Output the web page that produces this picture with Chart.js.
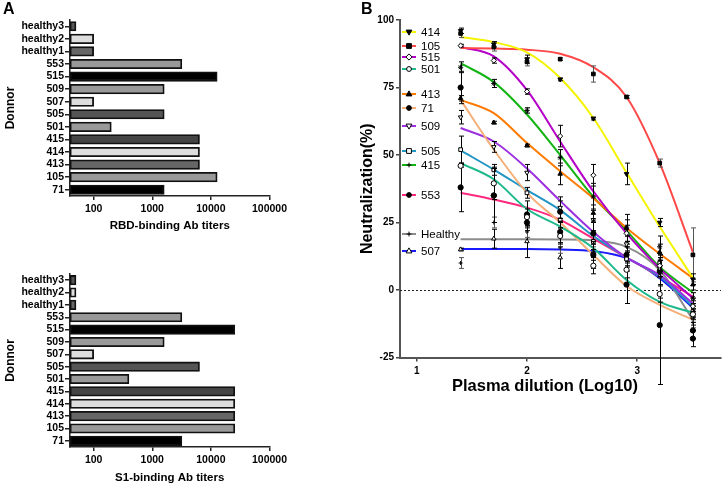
<!DOCTYPE html>
<html lang="en">
<head>
<meta charset="UTF-8">
<title>Donor titers and neutralization</title>
<script src="https://cdn.jsdelivr.net/npm/chart.js"></script>
<style>
  body { margin: 0; background: #fff; }
  #wrap { position: relative; width: 726px; height: 486px; font-family: 'Liberation Sans', Arial, sans-serif; }
  canvas { position: absolute; }
  .panel { position: absolute; font-weight: bold; font-size: 16px; color: #000; }
  .xtitle { position: absolute; font-weight: bold; font-size: 16.5px; text-align: center; width: 240px; line-height: 18px; }
</style>
</head>
<body>
<div id="wrap">
  <canvas id="rbdChart" width="290" height="240" style="left:0;top:0"></canvas>
  <canvas id="s1Chart" width="290" height="246" style="left:0;top:240px"></canvas>
  <canvas id="neutChart" width="436" height="486" style="left:290px;top:0"></canvas>
  <div class="panel" style="left:3px;top:0">A</div>
  <div class="panel" style="left:361px;top:0">B</div>
  <div class="xtitle" style="left:425px;top:376px">Plasma dilution (Log10)</div>
</div>

<script>
// ---- panel A data ----
const donors = ['healthy3', 'healthy2', 'healthy1', '553', '515', '509', '507', '505', '501', '415', '414', '413', '105', '71'];
const rbdTiters = [50, 100, 100, 3200, 12800, 1600, 100, 1600, 200, 6400, 6400, 6400, 12800, 1600];
const s1Titers = [50, 50, 50, 3200, 25600, 1600, 100, 6400, 400, 25600, 25600, 25600, 25600, 3200];
const titerTicks = [100, 1000, 10000, 100000];

// ---- panel B data ----
const dilutionLog = [1.398, 1.699, 2.000, 2.301, 2.602, 2.903, 3.204, 3.505];
const dilutionTicks = [1, 2, 3];

const fit414 = [93.7, 91.8, 88, 78.5, 63.7, 43.5, 23.5, 4.5];
const mean414 = [96, 91, 85.5, 78, 63.5, 43, 25, 4];
const sd414 = [1, 1, 1.5, 0.5, 0.5, 4, 1.5, 2];

const fit105 = [89.6, 89.4, 89, 87.5, 82.5, 71.5, 47, 14];
const mean105 = [95, 90, 84.5, 85.5, 80, 71.5, 47, 13];
const sd105 = [1.5, 1.5, 1.5, 0.5, 3, 0.5, 1.5, 10];

const fit515 = [90, 86.5, 74, 55, 36.5, 21, 8, -3];
const mean515 = [90.5, 85, 73.5, 57, 42.5, 21, 9, -6];
const sd515 = [0.5, 1, 1, 4, 4, 3, 3, 2];

const fit501 = [47, 41, 30, 23.5, 15.5, 3.7, -4.4, -8.4];
const mean501 = [46, 39.5, 27, 20, 9, 7.5, -1.5, -9];
const sd501 = [0.5, 6, 3, 3, 3, 3, 3, 2];

const fit413 = [70.4, 65.5, 54.4, 44, 34, 23, 13.4, 4.4];
const mean413 = [71, 62, 53.5, 43, 28.5, 23, 14, 2];
const sd413 = [1, 0.5, 0.5, 4, 3, 3, 3, 2];

const fit71 = [70.4, 52, 36, 25, 13, 1.5, -5.5, -11];
const mean71 = [75, 35, 28, 21.5, 13, 2, -13, -18];
const sd71 = [6, 10, 5, 4, 5, 7, 22, 3];

const fit509 = [60, 55, 45, 33, 21.5, 12, 5.5, -5];
const mean509 = [64, 53, 43.5, 30.5, 26, 17, 8, -6];
const sd509 = [2.5, 2, 3, 4, 4, 3, 3, 3];

const fit505 = [51.7, 44.6, 37, 29.6, 20, 12, 5, -6];
const mean505 = [52, 44.5, 36, 26, 18, 11.5, 10, -8];
const sd505 = [5, 2, 2, 3, 3, 3, 3, 2];

const fit415 = [84, 77, 65, 50, 34.5, 22, 8.5, -1];
const mean415 = [82.5, 76.5, 66.5, 49, 34.5, 23, 16, -3];
const sd415 = [2, 1.5, 1, 3, 5, 5, 4, 2];

const fit553 = [36, 33.5, 30.5, 26, 19, 12, 5, -2.5];
const mean553 = [38, 35, 25, 29, 21, 13, 7, -15];
const sd553 = [9, 10, 3, 4, 4, 3, 5, 3];

const fitHealthy = [18.8, 18.8, 18.8, 18.7, 18.3, 16, 7.4, -11];
const meanHealthy = [10, 25, 21.5, 15.6, 18, 16, 11, -12];
const sdHealthy = [2, 2, 2, 2, 2, 2, 2, 2];

const fit507 = [15.2, 15.2, 15.2, 15, 14.4, 11.8, 4.4, -6.6];
const mean507 = [15, 19, 18, 12, 14, 12, 5, -10];
const sd507 = [0.5, 3.5, 6, 4, 3, 5, 8, 3];

// ---- styling ----
const FONT = "'Liberation Sans', Arial, sans-serif";
Chart.defaults.font.family = FONT;
Chart.defaults.color = '#000';
Chart.defaults.animation = false;

const donorShades = ['#555', '#ddd', '#666', '#999', '#000', '#999', '#ddd', '#555', '#999', '#444', '#ddd', '#666', '#999', '#000'];

// series table for panel B (legend order)
const series = [
  { label: '414', color: '#f4f400', marker: 'triangle', rot: 180, open: false, fit: fit414, mean: mean414, sd: sd414, legendY: 32 },
  { label: '105', color: '#ff4848', marker: 'rect', rot: 0, open: false, fit: fit105, mean: mean105, sd: sd105, legendY: 46, errColor: '#555' },
  { label: '515', color: '#b400c8', marker: 'rectRot', rot: 0, open: true, fit: fit515, mean: mean515, sd: sd515, legendY: 57 },
  { label: '501', color: '#1db98a', marker: 'circle', rot: 0, open: true, fit: fit501, mean: mean501, sd: sd501, legendY: 69 },
  { label: '413', color: '#ff7a00', marker: 'triangle', rot: 0, open: false, fit: fit413, mean: mean413, sd: sd413, legendY: 94 },
  { label: '71', color: '#f5b07a', marker: 'circle', rot: 0, open: false, fit: fit71, mean: mean71, sd: sd71, legendY: 108 },
  { label: '509', color: '#9b30e0', marker: 'triangle', rot: 180, open: true, fit: fit509, mean: mean509, sd: sd509, legendY: 126 },
  { label: '505', color: '#2196c4', marker: 'rect', rot: 0, open: true, fit: fit505, mean: mean505, sd: sd505, legendY: 151 },
  { label: '415', color: '#13b413', marker: 'star', rot: 0, open: false, fit: fit415, mean: mean415, sd: sd415, legendY: 165 },
  { label: '553', color: '#ff2a7f', marker: 'circle', rot: 0, open: false, fit: fit553, mean: mean553, sd: sd553, legendY: 195 },
  { label: 'Healthy', color: '#8c8c8c', marker: 'cross', rot: 0, open: false, fit: fitHealthy, mean: meanHealthy, sd: sdHealthy, legendY: 234, errColor: '#555' },
  { label: '507', color: '#1a1aff', marker: 'triangle', rot: 0, open: true, fit: fit507, mean: mean507, sd: sd507, legendY: 251 }
];

// ---- panel A ----
function titerChart(id, values, title, pad) {
  return new Chart(document.getElementById(id), {
    type: 'bar',
    data: {
      labels: donors,
      datasets: [{
        data: values,
        backgroundColor: donorShades,
        borderColor: '#111',
        borderWidth: 1.8,
        borderSkipped: false,
        barThickness: 9.5
      }]
    },
    options: {
      indexAxis: 'y',
      responsive: false,
      layout: { padding: { top: pad.top, right: 17.5, left: 0, bottom: 0 } },
      plugins: { legend: { display: false }, tooltip: { enabled: false } },
      scales: {
        x: {
          type: 'logarithmic',
          min: 39.5,
          max: 100000,
          afterBuildTicks: s => { s.ticks = titerTicks.map(v => ({ value: v })); },
          afterFit: s => { s.height = pad.xh; },
          ticks: { callback: v => String(v), autoSkip: false, maxRotation: 0, padding: 3, color: '#000', font: { size: 10.5, weight: 'bold' } },
          grid: { drawOnChartArea: false, drawTicks: true, tickLength: 4, color: '#222', lineWidth: 1.5 },
          border: { display: true, color: '#222', width: 1.5 },
          title: { display: true, text: title, color: '#000', font: { size: 11.5, weight: 'bold' }, padding: { top: 4, bottom: pad.tb } }
        },
        y: {
          type: 'category',
          offset: true,
          afterFit: s => { s.width = 70; },
          ticks: { autoSkip: false, padding: 1, color: '#000', font: { size: 10.5, weight: 'bold' } },
          grid: { offset: false, drawOnChartArea: false, drawTicks: true, tickLength: 5, color: '#222', lineWidth: 1.5 },
          border: { display: true, color: '#222', width: 1.5 },
          title: { display: true, text: 'Donnor', color: '#000', font: { size: 12, weight: 'bold' }, padding: { top: 3, bottom: 0 } }
        }
      }
    }
  });
}

titerChart('rbdChart', rbdTiters, 'RBD-binding Ab titers', { top: 20, xh: 44, tb: 7 });
titerChart('s1Chart', s1Titers, 'S1-binding Ab titers', { top: 34, xh: 39, tb: 1 });

// ---- panel B ----
const errorBars = {
  id: 'errorBars',
  beforeDatasetDraw(chart, args) {
    const ds = chart.data.datasets[args.index];
    if (!ds.errors) return;
    const ctx = chart.ctx, xs = chart.scales.x, ys = chart.scales.y;
    ctx.save();
    ctx.strokeStyle = ds.errColor || '#000';
    ctx.lineWidth = 1;
    ds.data.forEach((p, i) => {
      const e = ds.errors[i];
      if (!e) return;
      const px = Math.round(xs.getPixelForValue(p.x)) + 0.5;
      const t = ys.getPixelForValue(p.y + e), b = ys.getPixelForValue(p.y - e);
      ctx.beginPath();
      ctx.moveTo(px, t); ctx.lineTo(px, b);
      ctx.moveTo(px - 2.5, t); ctx.lineTo(px + 2.5, t);
      ctx.moveTo(px - 2.5, b); ctx.lineTo(px + 2.5, b);
      ctx.stroke();
    });
    ctx.restore();
  }
};

const zeroLine = {
  id: 'zeroLine',
  beforeDatasetsDraw(chart) {
    const { ctx, chartArea } = chart;
    const y = Math.round(chart.scales.y.getPixelForValue(0)) + 0.5;
    ctx.save();
    ctx.strokeStyle = '#222';
    ctx.lineWidth = 1;
    ctx.setLineDash([2, 2]);
    ctx.beginPath();
    ctx.moveTo(chartArea.left, y);
    ctx.lineTo(chartArea.right, y);
    ctx.stroke();
    ctx.restore();
  }
};

function drawMarker(ctx, s, x, y, r) {
  ctx.save();
  ctx.translate(x, y);
  ctx.rotate(s.rot * Math.PI / 180);
  ctx.beginPath();
  if (s.marker === 'circle') ctx.arc(0, 0, r, 0, Math.PI * 2);
  else if (s.marker === 'rect') ctx.rect(-r, -r, 2 * r, 2 * r);
  else if (s.marker === 'rectRot') { ctx.moveTo(0, -r * 1.3); ctx.lineTo(r * 1.3, 0); ctx.lineTo(0, r * 1.3); ctx.lineTo(-r * 1.3, 0); ctx.closePath(); }
  else if (s.marker === 'triangle') { ctx.moveTo(0, -r * 1.3); ctx.lineTo(r * 1.2, r * 0.8); ctx.lineTo(-r * 1.2, r * 0.8); ctx.closePath(); }
  else { ctx.moveTo(-r, 0); ctx.lineTo(r, 0); ctx.moveTo(0, -r); ctx.lineTo(0, r); }
  ctx.fillStyle = s.open ? '#fff' : '#000';
  ctx.strokeStyle = '#000';
  ctx.lineWidth = 1;
  if (s.marker !== 'star' && s.marker !== 'cross') ctx.fill();
  ctx.stroke();
  ctx.restore();
}

const legendB = {
  id: 'legendB',
  afterDraw(chart) {
    const ctx = chart.ctx;
    const x0 = chart.chartArea.left + 2;
    ctx.save();
    ctx.font = '11.5px ' + FONT;
    ctx.textBaseline = 'middle';
    series.forEach(s => {
      ctx.strokeStyle = s.color;
      ctx.lineWidth = 2;
      ctx.beginPath();
      ctx.moveTo(x0, s.legendY);
      ctx.lineTo(x0 + 14, s.legendY);
      ctx.stroke();
      drawMarker(ctx, s, x0 + 7, s.legendY, 2.4);
      ctx.fillStyle = '#000';
      ctx.fillText(s.label, x0 + 19, s.legendY + 0.5);
    });
    ctx.restore();
  }
};

const datasetsB = [];
series.forEach(s => {
  datasetsB.push({
    data: dilutionLog.map((x, i) => ({ x: x, y: s.fit[i] })),
    showLine: true,
    pointRadius: 0,
    borderColor: s.color,
    borderWidth: 2,
    cubicInterpolationMode: 'monotone',
    order: 1
  });
  datasetsB.push({
    data: dilutionLog.map((x, i) => ({ x: x, y: s.mean[i] })),
    showLine: false,
    pointStyle: s.marker,
    pointRotation: s.rot,
    pointRadius: s.marker === 'cross' ? 2 : 2.6,
    pointBackgroundColor: s.open ? '#fff' : '#000',
    pointBorderColor: '#000',
    pointBorderWidth: 1,
    errors: s.sd,
    errColor: s.errColor,
    order: 0
  });
});

new Chart(document.getElementById('neutChart'), {
  type: 'scatter',
  data: { datasets: datasetsB },
  options: {
    responsive: false,
    layout: { padding: { top: 20, right: 0, left: 64, bottom: 0 } },
    plugins: { legend: { display: false }, tooltip: { enabled: false } },
    scales: {
      x: {
        type: 'linear',
        min: 0.848,
        max: 3.76,
        afterBuildTicks: s => { s.ticks = dilutionTicks.map(v => ({ value: v })); },
        afterFit: s => { s.height = 128.5; },
        ticks: { padding: 4, color: '#000', font: { size: 10, weight: 'bold' } },
        grid: { drawOnChartArea: false, drawTicks: true, tickLength: 4, color: '#444', lineWidth: 1.5 },
        border: { display: true, color: '#555', width: 2 }
      },
      y: {
        min: -25,
        max: 100,
        afterFit: s => { s.width = 46; },
        ticks: { stepSize: 25, padding: 2, color: '#000', font: { size: 10, weight: 'bold' } },
        grid: { drawOnChartArea: false, drawTicks: true, tickLength: 4, color: '#444', lineWidth: 1.5 },
        border: { display: true, color: '#555', width: 2 },
        title: { display: true, text: 'Neutralization(%)', color: '#000', font: { size: 16, weight: 'bold' }, padding: { top: 4, bottom: 0 } }
      }
    }
  },
  plugins: [errorBars, zeroLine, legendB]
});
</script>
</body>
</html>
